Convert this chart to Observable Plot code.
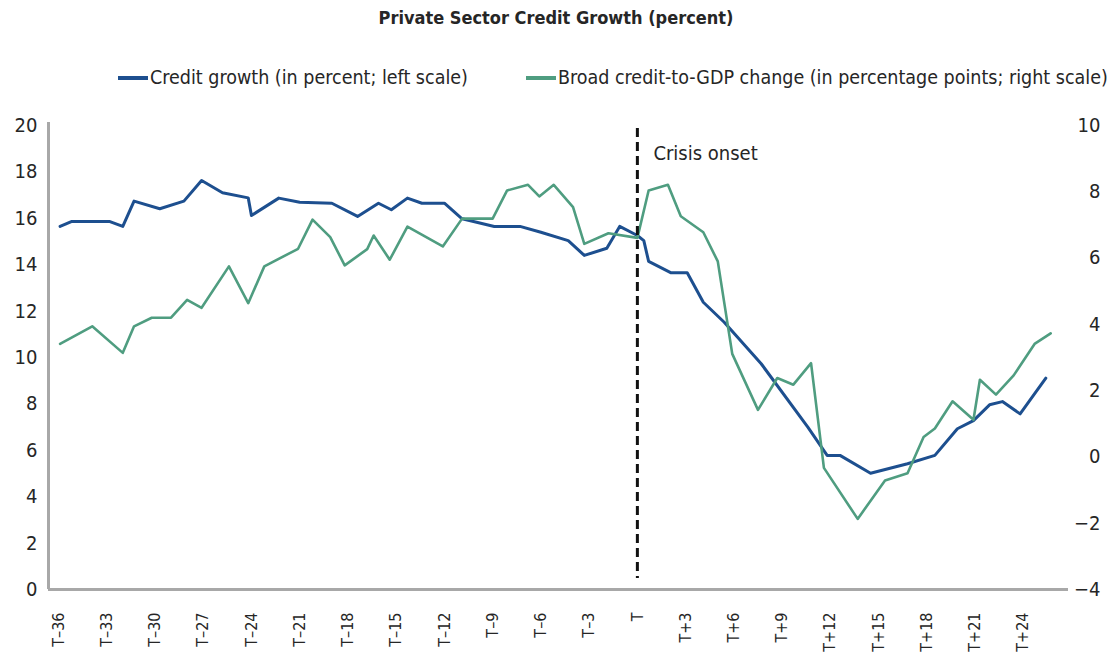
<!DOCTYPE html>
<html>
<head>
<meta charset="utf-8">
<script src="https://cdn.jsdelivr.net/npm/d3@7"></script>
<script src="https://cdn.jsdelivr.net/npm/@observablehq/plot@0.6"></script>
<style>
  body { margin: 0; background: #fff; font-family: "DejaVu Sans Condensed", "Liberation Sans Narrow", sans-serif; color: #262626; }
  #wrap { position: relative; width: 1112px; height: 660px; overflow: hidden; }
  #title { position: absolute; top: 0; left: 0; width: 1112px; text-align: center; font-weight: bold; font-size: 18px; line-height: 36px; }
  #legend { position: absolute; top: 60px; left: 118px; display: flex; align-items: center; font-size: 19.5px; line-height: 36px; white-space: nowrap; }
  .sw { display: inline-block; width: 30px; height: 4px; margin-right: 2px; }
  #chart { position: absolute; top: 100px; left: 0; }
</style>
</head>
<body>
<div id="wrap">
  <div id="title">Private Sector Credit Growth (percent)</div>
  <div id="legend">
    <span class="sw" style="background:#1d4f8f"></span><span>Credit growth (in percent; left scale)</span>
    <span class="sw" style="background:#4f9d80; margin-left:58px"></span><span>Broad credit-to-GDP change (in percentage points; right scale)</span>
  </div>
  <div id="chart"></div>
</div>
<script>
// Periods relative to crisis onset (T = 0)
const creditPeriods = [-35.9, -35.2, -32.8, -32.0, -31.3, -29.7, -28.2, -27.1, -25.8, -24.2, -24.0, -22.3, -21.0, -19.0, -17.4, -16.1, -15.3, -14.3, -13.4, -12.0, -10.9, -8.9, -7.3, -6.0, -4.3, -3.3, -1.9, -1.1, 0.0, 0.4, 0.7, 2.1, 3.1, 4.1, 5.4, 7.7, 10.6, 11.8, 12.6, 14.5, 16.8, 18.5, 19.9, 20.9, 21.9, 22.7, 23.8, 25.4];
const creditGrowth = [15.65, 15.86, 15.86, 15.65, 16.74, 16.41, 16.74, 17.63, 17.10, 16.88, 16.12, 16.87, 16.69, 16.65, 16.08, 16.65, 16.37, 16.87, 16.65, 16.65, 15.98, 15.65, 15.65, 15.40, 15.04, 14.40, 14.71, 15.65, 15.26, 15.04, 14.14, 13.65, 13.65, 12.38, 11.52, 9.73, 7.00, 5.78, 5.78, 5.01, 5.42, 5.78, 6.93, 7.28, 7.96, 8.10, 7.57, 9.11];

const gdpPeriods = [-35.9, -33.9, -32.0, -31.3, -30.2, -29.0, -28.0, -27.1, -25.4, -24.2, -23.2, -21.1, -20.2, -19.1, -18.2, -16.8, -16.4, -15.4, -14.3, -12.1, -10.9, -9.0, -8.1, -6.8, -6.1, -5.2, -4.0, -3.3, -1.8, 0.0, 0.7, 1.9, 2.7, 4.1, 5.0, 5.9, 7.5, 8.7, 9.7, 10.8, 11.6, 13.7, 15.4, 16.8, 17.8, 18.5, 19.6, 20.9, 21.3, 22.3, 23.4, 24.7, 25.7];
const creditToGdpChange = [3.41, 3.94, 3.14, 3.94, 4.20, 4.20, 4.74, 4.50, 5.75, 4.64, 5.75, 6.28, 7.16, 6.63, 5.78, 6.27, 6.68, 5.95, 6.95, 6.35, 7.19, 7.19, 8.04, 8.21, 7.86, 8.21, 7.54, 6.43, 6.75, 6.61, 8.04, 8.21, 7.26, 6.78, 5.90, 3.11, 1.42, 2.38, 2.18, 2.83, -0.33, -1.87, -0.71, -0.49, 0.60, 0.86, 1.68, 1.12, 2.33, 1.88, 2.46, 3.41, 3.73];

const leftTicks = [0, 2, 4, 6, 8, 10, 12, 14, 16, 18, 20];
const rightTicks = [-4, -2, 0, 2, 4, 6, 8, 10];
const xTickValues = [-36, -33, -30, -27, -24, -21, -18, -15, -12, -9, -6, -3, 0, 3, 6, 9, 12, 15, 18, 21, 24];
const crisisPeriod = 0;
const crisisLabel = "Crisis onset";

// right scale maps onto left scale: right = 0.7 * left - 4
const rightToLeft = r => (r + 4) / 0.7;
const leftToRight = l => Math.round(l * 0.7 - 4);
const signed = v => v < 0 ? "\u2212" + Math.abs(v) : String(v);
const periodLabel = t => t === 0 ? "T" : t < 0 ? "T\u2013" + Math.abs(t) : "T+" + t;

const blue = "#1d4f8f", green = "#4f9d80", axisGray = "#a8a8a8";

const creditData = creditPeriods.map((t, i) => ({t, v: creditGrowth[i]}));
const gdpData = gdpPeriods.map((t, i) => ({t, v: rightToLeft(creditToGdpChange[i])}));

const xDomain = [-36.62, 26.81];

const chart = Plot.plot({
  width: 1112,
  height: 560,
  marginTop: 25,
  marginBottom: 71,
  marginLeft: 48,
  marginRight: 44,
  style: {fontFamily: '"DejaVu Sans Condensed", sans-serif', color: "#262626", background: "#fff"},
  x: {domain: xDomain, axis: null},
  y: {domain: [0, 20]},
  marks: [
    Plot.ruleY([0], {stroke: axisGray, strokeWidth: 3}),
    Plot.ruleX([xDomain[0]], {stroke: axisGray, strokeWidth: 3, insetTop: -3}),
    Plot.axisY({anchor: "left", ticks: leftTicks, tickSize: 0, tickPadding: 11, fontSize: 20, label: null}),
    Plot.axisY({anchor: "right", ticks: rightTicks.map(rightToLeft), tickFormat: d => signed(leftToRight(d)), tickSize: 0, tickPadding: 32, textAnchor: "end", fontSize: 20, label: null}),
    Plot.text(xTickValues, {x: d => d, frameAnchor: "bottom", text: periodLabel, rotate: -90, textAnchor: "end", lineAnchor: "middle", dy: 23, fontSize: 16, fill: "#262626"}),
    Plot.line(creditData, {x: "t", y: "v", stroke: blue, strokeWidth: 3}),
    Plot.line(gdpData, {x: "t", y: "v", stroke: green, strokeWidth: 2.6}),
    Plot.ruleX([crisisPeriod], {stroke: "#111", strokeWidth: 3, strokeDasharray: "9,5", insetTop: 3, insetBottom: 11}),
    Plot.text([crisisLabel], {x: crisisPeriod, y: 20, text: d => d, textAnchor: "start", lineAnchor: "middle", dx: 16, dy: 28, fontSize: 20, fill: "#262626"})
  ]
});
document.getElementById("chart").appendChild(chart);
</script>
</body>
</html>
